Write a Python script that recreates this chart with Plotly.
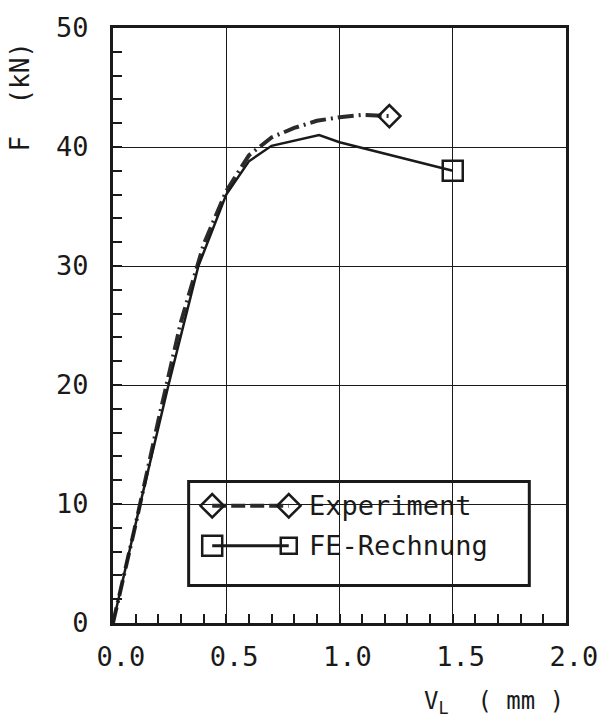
import plotly.graph_objects as go

# values
exp_v = [0.0, 0.1, 0.2, 0.3, 0.4, 0.5, 0.6, 0.7, 0.8, 0.9, 1.0, 1.1, 1.22]
exp_f = [0.0, 8.3, 17.0, 25.3, 31.8, 36.3, 39.3, 40.8, 41.6, 42.2, 42.5, 42.7, 42.6]

fe_v = [0.0, 0.12, 0.245, 0.377, 0.5, 0.6, 0.7, 0.91, 1.0, 1.5]
fe_f = [0.0, 10.0, 20.0, 30.0, 36.0, 38.8, 40.1, 41.0, 40.4, 38.0]

x_ticks = [0.0, 0.5, 1.0, 1.5, 2.0]
x_labels = ["0.0", "0.5", "1.0", "1.5", "2.0"]
y_ticks = [0, 10, 20, 30, 40, 50]

FONT = "DejaVu Sans Mono"
INK = "#1a1a1a"

fig = go.Figure()

fig.add_trace(go.Scatter(x=exp_v, y=exp_f, mode="lines",
                         line=dict(color="#2b2b2b", width=4, dash="16px,5px,2px,5px"),
                         showlegend=False))
fig.add_trace(go.Scatter(x=fe_v, y=fe_f, mode="lines",
                         line=dict(color=INK, width=2.5), showlegend=False))
# end markers
fig.add_trace(go.Scatter(x=exp_v[-1:], y=exp_f[-1:], mode="markers",
                         marker=dict(symbol="diamond-open", size=17, color=INK,
                                     line=dict(width=2.5, color=INK)),
                         showlegend=False))
fig.add_trace(go.Scatter(x=fe_v[-1:], y=fe_f[-1:], mode="markers",
                         marker=dict(symbol="square-open", size=20, color=INK,
                                     line=dict(width=2.5, color=INK)),
                         showlegend=False))

# hand-drawn legend on an overlay axis (0..1 over the plot area)
lx0, lx1, ltxt = 0.219, 0.388, 0.428
row1, row2 = 0.197, 0.13
fig.add_shape(type="rect", xref="paper", yref="paper", x0=0.167, x1=0.919, y0=0.063, y1=0.238,
              line=dict(color=INK, width=3), fillcolor="white", layer="between")
fig.add_trace(go.Scatter(x=[lx0, lx1], y=[row1, row1], xaxis="x2", yaxis="y2", mode="lines+markers",
                         line=dict(color="#2b2b2b", width=4, dash="14px,5px"),
                         marker=dict(symbol="diamond-open", size=18, color=INK,
                                     line=dict(width=2.5, color=INK)),
                         showlegend=False))
fig.add_trace(go.Scatter(x=[lx0, lx1], y=[row2, row2], xaxis="x2", yaxis="y2", mode="lines",
                         line=dict(color=INK, width=3), showlegend=False))
for xx, sz in [(lx0, 20), (lx1, 16)]:
    fig.add_trace(go.Scatter(x=[xx], y=[row2], xaxis="x2", yaxis="y2", mode="markers",
                             marker=dict(symbol="square-open", size=sz, color=INK,
                                         line=dict(width=2.5, color=INK)),
                             showlegend=False))
for txt, yy in [("Experiment", row1), ("FE-Rechnung", row2)]:
    fig.add_annotation(x=ltxt, y=yy, xref="paper", yref="paper", text=txt, showarrow=False,
                       xanchor="left", yanchor="middle", font=dict(family=FONT, size=27, color=INK))

fig.add_annotation(x=-0.205, y=0.885, xref="paper", yref="paper", text="F  (kN)", textangle=-90,
                   showarrow=False, xanchor="center", yanchor="middle",
                   font=dict(family=FONT, size=26, color=INK))
fig.add_annotation(x=1.0, y=-0.105, xref="paper", yref="paper", text="V<sub>L</sub>  ( mm )",
                   showarrow=False, xanchor="right", yanchor="top",
                   font=dict(family=FONT, size=24, color=INK))

fig.update_layout(
    width=610, height=724,
    margin=dict(l=113, r=42, t=22, b=101),
    paper_bgcolor="white", plot_bgcolor="white",
    xaxis=dict(range=[0, 2.0], tickvals=x_ticks, ticktext=x_labels, ticks="inside", ticklen=9,
               tickwidth=1.5, tickcolor=INK, showgrid=True, gridcolor=INK, gridwidth=1.3,
               showline=True, linecolor=INK, linewidth=3, mirror=True, zeroline=False,
               minor=dict(dtick=0.1, ticks="inside", ticklen=9, tickwidth=1.5, tickcolor=INK, showgrid=False),
               tickfont=dict(family=FONT, size=27, color=INK), ticklabelstandoff=8,
               ticklabelshift=8),
    yaxis=dict(range=[0, 50], tickvals=y_ticks, ticks="inside", ticklen=9,
               tickwidth=1.5, tickcolor=INK, showgrid=True, gridcolor=INK, gridwidth=1.3,
               showline=True, linecolor=INK, linewidth=3, mirror=True, zeroline=False,
               minor=dict(dtick=2, ticks="inside", ticklen=9, tickwidth=1.5, tickcolor=INK, showgrid=False),
               tickfont=dict(family=FONT, size=27, color=INK), ticklabelstandoff=16),
    xaxis2=dict(range=[0, 1], overlaying="x", visible=False),
    yaxis2=dict(range=[0, 1], overlaying="y", visible=False),
)

fig.write_html("out.html", config={"displayModeBar": False},
               post_script="document.body.style.margin='0';")
